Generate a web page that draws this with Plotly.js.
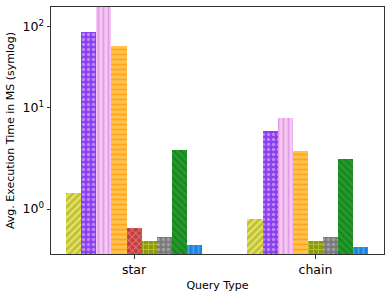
<!DOCTYPE html>
<html>
<head>
<meta charset="utf-8">
<script src="https://cdn.plot.ly/plotly-3.0.1.min.js"></script>
<style>html,body{margin:0;padding:0;background:#fff;}#chart{width:391px;height:295px;}</style>
</head>
<body>
<div id="chart"></div>
<script>
// ---- data ----
const categories = ["star", "chain"];
const seriesNames = ["S1", "S2", "S3", "S4", "S5", "S6", "S7", "S8", "S9"];
// values per series: [star, chain]; null = not present
const s1 = [1.36, 0.77];
const s2 = [85, 5.1];
const s3 = [175, 7.4];
const s4 = [57, 2.9];
const s5 = [0.58, null];
const s6 = [0.29, 0.29];
const s7 = [0.37, 0.37];
const s8 = [2.95, 2.31];
const s9 = [0.21, 0.16];
const yTickValues = [1, 10, 100];
const yTickLabels = ["10<sup>0</sup>", "10<sup>1</sup>", "10<sup>2</sup>"];

// ---- styles ----
const styles = [
  {bg: "#c4c42a", fg: "#e6e68a", shape: "/"},
  {bg: "#8c3ff0", fg: "#b98af7", shape: "."},
  {bg: "#f3c8f3", fg: "#e59ae5", shape: "|"},
  {bg: "#ffc24f", fg: "#ffa41a", shape: "-"},
  {bg: "#c43c3c", fg: "#e07a7a", shape: "x"},
  {bg: "#8f9a0a", fg: "#b4bf3a", shape: "+"},
  {bg: "#7a7a7a", fg: "#a0a0a0", shape: "."},
  {bg: "#229a2a", fg: "#1c7d22", shape: "\\"},
  {bg: "#1b84e0", fg: "#4aa0ea", shape: "|"}
];

// symlog transform (base 10, linthresh 2, linscale 1)
const LT = 2, LS = 1 / (1 - 1 / 10);
function T(v) {
  const a = Math.abs(v);
  const r = a <= LT ? a * LS : LT * (LS + Math.log10(a / LT));
  return Math.sign(v) * r;
}

const all = [s1, s2, s3, s4, s5, s6, s7, s8, s9];
const nSlots = all.length;
const groupWidth = 0.75;
const w = groupWidth / nSlots;

const traces = all.map((vals, si) => {
  const xs = [], ys = [], cd = [];
  vals.forEach((v, ci) => {
    if (v === null) return;
    // slot = index among series present in this category
    let slot = 0;
    for (let k = 0; k < si; k++) if (all[k][ci] !== null) slot++;
    xs.push(ci + (slot - (nSlots - 1) / 2) * w);
    ys.push(T(v));
    cd.push(v);
  });
  return {
    type: "bar", name: seriesNames[si], x: xs, y: ys, customdata: cd, width: w,
    marker: {color: styles[si].bg, line: {width: 0},
      pattern: {shape: styles[si].shape, fgcolor: styles[si].fg, bgcolor: styles[si].bg, size: 5, solidity: 0.35}},
    hovertemplate: "%{customdata}<extra>" + seriesNames[si] + "</extra>",
    showlegend: false
  };
});

const layout = {
  width: 391, height: 295,
  margin: {l: 51, r: 7, t: 7, b: 41},
  paper_bgcolor: "#fff", plot_bgcolor: "#fff",
  font: {family: "DejaVu Sans", color: "#000"},
  barmode: "overlay", bargap: 0,
  xaxis: {
    range: [-0.458, 1.378], tickvals: [0, 1], ticktext: categories,
    ticks: "outside", ticklen: 3.5, tickcolor: "#333", tickfont: {size: 12.5},
    showline: true, linecolor: "#333", linewidth: 1, mirror: true,
    showgrid: false, zeroline: false,
    title: {text: "Query Type", font: {size: 11}, standoff: 5}
  },
  yaxis: {
    range: [0, T(174)], tickvals: yTickValues.map(T), ticktext: yTickLabels,
    ticks: "outside", ticklen: 3.5, tickcolor: "#333", tickfont: {size: 12.5},
    showline: true, linecolor: "#333", linewidth: 1, mirror: true,
    showgrid: false, zeroline: false,
    title: {text: "Avg. Execution Time in MS (symlog)", font: {size: 11}, standoff: 5}
  }
};

Plotly.newPlot("chart", traces, layout, {displayModeBar: false, staticPlot: true});
</script>
</body>
</html>
